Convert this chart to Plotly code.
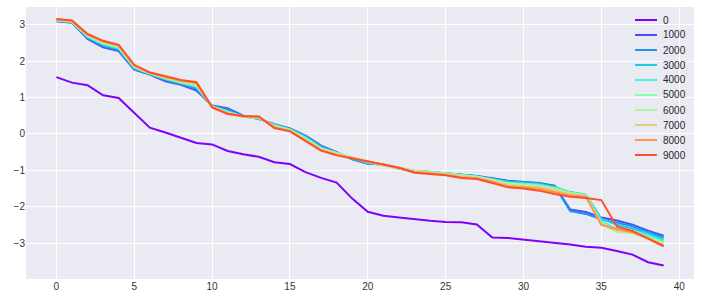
import plotly.graph_objects as go

x_vals = list(range(40))
labels = ["0", "1000", "2000", "3000", "4000", "5000", "6000", "7000", "8000", "9000"]
colors = ["#8000ff", "#4d4ffc", "#1a96f2", "#1acee3", "#4df2ce", "#80ffb4",
          "#b3f296", "#e6ce74", "#ff964f", "#ff4f28"]

s0 = [1.56, 1.41, 1.34, 1.06, 0.99, 0.575, 0.17, 0.04, -0.10, -0.25,
      -0.29, -0.47, -0.56, -0.63, -0.78, -0.83, -1.05, -1.21, -1.34, -1.78,
      -2.14, -2.25, -2.30, -2.35, -2.39, -2.42, -2.43, -2.49, -2.85, -2.86,
      -2.90, -2.94, -3.00, -3.04, -3.10, -3.13, -3.22, -3.32, -3.53, -3.62]

rows = [
    [3.10, 3.11, 3.12, 3.12, 3.13, 3.13, 3.14, 3.15, 3.16],
    [3.06, 3.07, 3.08, 3.08, 3.09, 3.10, 3.10, 3.11, 3.12],
    [2.61, 2.63, 2.66, 2.68, 2.69, 2.70, 2.72, 2.73, 2.75],
    [2.38, 2.42, 2.45, 2.47, 2.49, 2.51, 2.53, 2.54, 2.56],
    [2.28, 2.31, 2.34, 2.36, 2.38, 2.40, 2.42, 2.43, 2.45],
    [1.77, 1.79, 1.81, 1.83, 1.84, 1.86, 1.87, 1.88, 1.90],
    [1.63, 1.64, 1.65, 1.66, 1.66, 1.67, 1.68, 1.68, 1.69],
    [1.45, 1.48, 1.50, 1.52, 1.53, 1.54, 1.55, 1.57, 1.58],
    [1.35, 1.37, 1.39, 1.41, 1.42, 1.44, 1.45, 1.47, 1.48],
    [1.19, 1.24, 1.28, 1.31, 1.33, 1.36, 1.38, 1.40, 1.42],
    [0.78, 0.77, 0.76, 0.76, 0.75, 0.75, 0.74, 0.74, 0.73],
    [0.71, 0.67, 0.63, 0.61, 0.59, 0.58, 0.57, 0.56, 0.55],
    [0.50, 0.49, 0.48, 0.47, 0.47, 0.47, 0.48, 0.48, 0.49],
    [0.41, 0.42, 0.42, 0.43, 0.44, 0.45, 0.46, 0.47, 0.48],
    [0.27, 0.26, 0.25, 0.24, 0.23, 0.21, 0.20, 0.18, 0.16],
    [0.15, 0.14, 0.13, 0.12, 0.11, 0.10, 0.09, 0.08, 0.07],
    [-0.05, -0.06, -0.08, -0.10, -0.12, -0.14, -0.16, -0.18, -0.20],
    [-0.32, -0.34, -0.37, -0.39, -0.40, -0.41, -0.43, -0.45, -0.46],
    [-0.50, -0.51, -0.52, -0.52, -0.53, -0.54, -0.56, -0.57, -0.59],
    [-0.70, -0.69, -0.68, -0.66, -0.65, -0.65, -0.66, -0.67, -0.67],
    [-0.82, -0.81, -0.80, -0.78, -0.77, -0.77, -0.76, -0.75, -0.74],
    [-0.84, -0.84, -0.85, -0.85, -0.86, -0.86, -0.85, -0.85, -0.84],
    [-0.96, -0.95, -0.94, -0.94, -0.95, -0.95, -0.94, -0.93, -0.93],
    [-1.02, -1.02, -1.02, -1.01, -1.01, -1.02, -1.04, -1.05, -1.07],
    [-1.05, -1.05, -1.05, -1.04, -1.04, -1.05, -1.07, -1.08, -1.10],
    [-1.08, -1.08, -1.08, -1.08, -1.09, -1.10, -1.11, -1.12, -1.14],
    [-1.13, -1.13, -1.13, -1.13, -1.14, -1.15, -1.17, -1.19, -1.21],
    [-1.16, -1.16, -1.17, -1.17, -1.18, -1.19, -1.21, -1.22, -1.24],
    [-1.22, -1.23, -1.24, -1.25, -1.26, -1.27, -1.29, -1.32, -1.35],
    [-1.29, -1.30, -1.32, -1.34, -1.36, -1.38, -1.41, -1.44, -1.47],
    [-1.32, -1.33, -1.35, -1.37, -1.39, -1.41, -1.44, -1.47, -1.50],
    [-1.35, -1.36, -1.38, -1.40, -1.42, -1.44, -1.47, -1.51, -1.56],
    [-1.42, -1.44, -1.46, -1.48, -1.50, -1.52, -1.55, -1.60, -1.65],
    [-2.08, -2.12, -1.60, -1.61, -1.62, -1.63, -1.65, -1.69, -1.73],
    [-2.15, -2.20, -1.67, -1.68, -1.69, -1.70, -1.71, -1.73, -1.76],
    [-2.30, -2.35, -2.33, -2.40, -2.44, -2.47, -2.49, -2.50, -1.82],
    [-2.38, -2.44, -2.50, -2.62, -2.68, -2.70, -2.65, -2.62, -2.55],
    [-2.50, -2.54, -2.60, -2.68, -2.72, -2.73, -2.72, -2.70, -2.67],
    [-2.66, -2.70, -2.74, -2.80, -2.84, -2.86, -2.87, -2.87, -2.88],
    [-2.80, -2.84, -2.90, -2.95, -2.99, -3.02, -3.05, -3.07, -3.09],
]

series = [s0] + [[r[i] for r in rows] for i in range(9)]

W, H = 702, 303
ML, MR, MT, MB = 26, 8, 7, 24
PW, PH = W - ML - MR, H - MT - MB

fig = go.Figure()
for lab, col, ys in zip(labels, colors, series):
    fig.add_trace(go.Scatter(x=x_vals, y=ys, mode="lines", name=lab,
                             line=dict(color=col, width=2), showlegend=False))


def px_x(p):
    return (p - ML) / PW


def px_y(p):
    return 1 - (p - MT) / PH


shapes = []
annotations = []
for i, (lab, col) in enumerate(zip(labels, colors)):
    yc = 20 + 15 * i
    shapes.append(dict(type="line", xref="paper", yref="paper",
                       x0=px_x(635), x1=px_x(657), y0=px_y(yc), y1=px_y(yc),
                       line=dict(color=col, width=2)))
    annotations.append(dict(xref="paper", yref="paper", x=px_x(663), y=px_y(yc),
                            text=lab, showarrow=False, xanchor="left", yanchor="middle",
                            xshift=-2, font=dict(size=10, color="#262626")))

fig.update_layout(
    width=W, height=H,
    margin=dict(l=ML, r=MR, t=MT, b=MB),
    paper_bgcolor="white", plot_bgcolor="#eaeaf2",
    font=dict(family="Liberation Sans, Arial, sans-serif", size=10, color="#333333"),
    showlegend=False,
    shapes=shapes, annotations=annotations,
)
fig.update_xaxes(range=[-1.95, 40.95], tickvals=[0, 5, 10, 15, 20, 25, 30, 35, 40],
                 showgrid=True, gridcolor="white", gridwidth=1, zeroline=False,
                 showline=False, ticks="", automargin=False)
fig.update_yaxes(range=[-3.99, 3.49], tickvals=[-3, -2, -1, 0, 1, 2, 3],
                 showgrid=True, gridcolor="white", gridwidth=1, zeroline=False,
                 showline=False, ticks="", automargin=False)

fig.write_html("out.html", config={"displayModeBar": False},
               post_script="document.body.style.margin='0';document.body.style.overflow='hidden';")
